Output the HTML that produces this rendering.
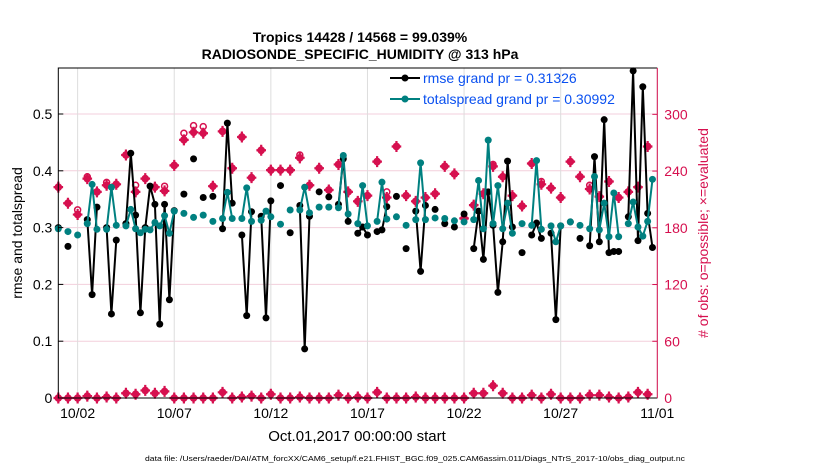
<!DOCTYPE html>
<html><head><meta charset="utf-8">
<style>
body{margin:0;background:#fff;}
svg{display:block;font-family:"Liberation Sans",sans-serif;}
</style></head>
<body>
<svg id="chart" width="830" height="470" viewBox="0 0 830 470">
<rect width="830" height="470" fill="#fff"/>
<text x="360" y="42" text-anchor="middle" font-size="14" font-weight="bold">Tropics 14428 / 14568 = 99.039%</text>
<text x="360" y="59" text-anchor="middle" font-size="14" font-weight="bold">RADIOSONDE_SPECIFIC_HUMIDITY @ 313 hPa</text>
<g id="grid"></g>
<g id="marks"></g>
<g id="axes"></g>
<text transform="translate(22,233) rotate(-90)" text-anchor="middle" font-size="14">rmse and totalspread</text>
<text transform="translate(708,233) rotate(-90)" text-anchor="middle" font-size="14" fill="#d6104f"># of obs: o=possible; ×=evaluated</text>
<text x="357" y="441" text-anchor="middle" font-size="15">Oct.01,2017 00:00:00 start</text>
<text x="415" y="461" text-anchor="middle" font-size="7.5" textLength="540" lengthAdjust="spacingAndGlyphs">data file: /Users/raeder/DAI/ATM_forcXX/CAM6_setup/f.e21.FHIST_BGC.f09_025.CAM6assim.011/Diags_NTrS_2017-10/obs_diag_output.nc</text>
<g>
<line x1="390" y1="78" x2="420" y2="78" stroke="#000" stroke-width="2"/>
<circle cx="405" cy="78" r="3.5" fill="#000"/>
<text x="423" y="83" font-size="14" fill="#0a50f0">rmse grand pr = 0.31326</text>
<line x1="390" y1="99" x2="420" y2="99" stroke="#008080" stroke-width="2"/>
<circle cx="405" cy="99" r="3.5" fill="#008080"/>
<text x="423" y="104" font-size="14" fill="#0a50f0">totalspread grand pr = 0.30992</text>
</g>
</svg>
<script>
// 6-hourly slots (day = index/4)
const rmse = [0.30,null,0.267,null,null,null,0.314,0.182,0.336,null,0.30,0.148,0.278,null,0.307,0.431,0.322,0.150,0.30,0.373,0.341,0.130,0.341,0.173,0.33,null,0.359,null,0.421,null,0.353,null,0.355,null,0.298,0.484,0.343,null,0.287,0.145,0.328,null,0.32,0.141,0.347,null,0.374,null,0.291,null,0.339,0.0864,0.32,null,0.363,null,0.354,null,0.341,0.421,0.311,null,0.29,0.301,0.287,null,0.293,0.296,0.337,null,0.355,null,0.263,null,0.329,0.223,0.339,null,0.332,null,0.307,null,0.301,null,0.324,null,0.263,0.329,0.244,0.363,0.304,0.186,0.275,0.417,0.301,null,0.256,null,0.287,0.308,0.281,null,0.29,0.138,0.303,null,0.310,null,0.281,null,0.268,0.425,0.275,0.49,0.256,0.258,0.258,null,0.319,0.576,0.277,0.548,0.325,0.265];
const spread = [0.298,null,0.293,null,0.287,null,0.307,0.376,0.297,null,0.297,0.371,0.304,null,0.303,0.332,0.298,0.291,0.297,0.296,0.309,0.303,0.321,0.29,0.329,null,0.325,null,0.318,null,0.322,null,0.311,null,0.316,0.362,0.316,null,0.316,0.37,0.311,null,0.313,0.329,0.319,null,0.306,null,0.331,null,0.331,0.371,0.326,null,0.336,null,0.336,null,0.335,0.427,0.324,null,0.307,0.374,0.303,null,0.311,0.380,0.315,null,0.319,null,0.304,null,0.314,0.414,0.314,null,0.317,null,0.316,null,0.312,null,0.31,null,0.314,0.383,0.298,0.454,0.307,0.374,0.298,0.343,0.29,null,0.307,null,0.304,0.418,0.297,null,0.303,0.275,0.303,null,0.31,null,0.304,null,0.298,0.39,0.296,0.343,0.284,0.361,0.284,null,0.307,0.345,0.301,0.285,0.311,0.385];
// 12-hourly slots (day = index/2)
const evaluated = [223,206,194,232,218,225,226,257,218,232,223,219,246,273,281,280,224,282,243,276,233,262,241,241,241,254,225,243,220,247,218,208,214,250,212,266,214,208,212,216,245,237,190,204,216,245,234,214,203,248,226,222,212,250,234,221,213,229,212,218,223,266];
const possible = [223,206,199,234,218,228,226,257,225,232,223,224,246,280,288,287,224,282,243,276,233,262,241,241,241,257,225,243,220,247,218,208,214,250,218,266,214,208,212,216,245,237,190,204,216,247,234,214,203,248,229,222,212,250,234,225,213,229,212,218,223,266];
const lowCounts = [0,0,0,2,0,1,0,5,4,8,5,7,0,0,0,0,0,6,0,1,2,0,4,0,0,1,0,0,0,3,0,1,0,6,0,0,0,1,0,0,0,0,0,5,5,13,5,0,0,3,0,4,0,0,0,3,3,1,0,1,6,4];
const xTickLabels = ["10/02","10/07","10/12","10/17","10/22","10/27","11/01"];
const xTickDays = [1,6,11,16,21,26,31];
const yTicks = [0,0.1,0.2,0.3,0.4,0.5];
const yTickLabels = ["0","0.1","0.2","0.3","0.4","0.5"];
const rTicks = [0,60,120,180,240,300];

const L=58.3,R=657.3,T=68,B=398,RED="#d6104f",NS="http://www.w3.org/2000/svg";
const xS=d=>L+(R-L)*d/31;
const yS=v=>B-(B-T)*v/0.581;
const rS=c=>B-(B-T)*c/349;
function mk(tag,attrs,parent){const e=document.createElementNS(NS,tag);for(const k in attrs)e.setAttribute(k,attrs[k]);parent.appendChild(e);return e;}
const grid=document.getElementById('grid'),marks=document.getElementById('marks'),axes=document.getElementById('axes');

yTicks.forEach((v,i)=>{
  const g=mk('line',{x1:L,x2:R,y1:yS(v),y2:yS(v),stroke:'#f3cfdc','stroke-width':1},grid);
  
  
  const t=mk('text',{x:L-6,y:yS(v)+5,'text-anchor':'end','font-size':14},axes);t.textContent=yTickLabels[i];
  
  
  mk('line',{x1:L,x2:L+5,y1:yS(v),y2:yS(v),stroke:'#000'},axes);
});
rTicks.forEach(c=>{
  const t=mk('text',{x:R+7,y:rS(c)+5,'font-size':14,fill:RED},axes);t.textContent=String(c);
  
  
  mk('line',{x1:R-5,x2:R,y1:rS(c),y2:rS(c),stroke:RED},axes);
});
xTickDays.forEach((d,i)=>{
  const g=mk('line',{x1:xS(d),x2:xS(d),y1:T,y2:B,stroke:'#dddddd','stroke-width':1},grid);
  
  
  const t=mk('text',{x:xS(d),y:418,'text-anchor':'middle','font-size':14},axes);t.textContent=xTickLabels[i];
  
  
});
const box=mk('path',{d:`M${R},${T}H${L}V${B}H${R}`,fill:'none',stroke:'#000','stroke-width':1},axes);


const rax=mk('line',{x1:R,x2:R,y1:T,y2:B,stroke:RED,'stroke-width':1},axes);



function redStar(x,y,name){
  const g=mk('g',{},marks);
  
  
  mk('circle',{cx:x,cy:y,r:3.8,fill:RED},g);
  mk('path',{d:`M${x-4.8},${y}H${x+4.8}M${x},${y-5.5}V${y+5.5}`,stroke:RED,'stroke-width':2.2},g);
}
possible.forEach((c,i)=>{
  const pc=mk('circle',{cx:xS(i/2),cy:rS(c),r:3,fill:'none',stroke:RED,'stroke-width':1.5},marks);
  
  
});
evaluated.forEach((c,i)=>redStar(xS(i/2),rS(c),'evaluated-count-point'));
lowCounts.forEach((c,i)=>redStar(xS(i/2),rS(c),'low-count-point'));

function series(arr,color,name){
  let d='',pen=false;
  arr.forEach((v,i)=>{if(v===null){pen=false;return;}d+=(pen?'L':'M')+xS(i/4).toFixed(1)+','+yS(v).toFixed(1);pen=true;});
  const p=mk('path',{d:d,fill:'none',stroke:color,'stroke-width':2,'stroke-linejoin':'round'},marks);
  
  
  arr.forEach((v,i)=>{if(v===null)return;
    const c=mk('circle',{cx:xS(i/4),cy:yS(v),r:3.5,fill:color},marks);
    
    
  });
}
series(rmse,'#000','rmse');
series(spread,'#008080','totalspread');
</script>
</body></html>
